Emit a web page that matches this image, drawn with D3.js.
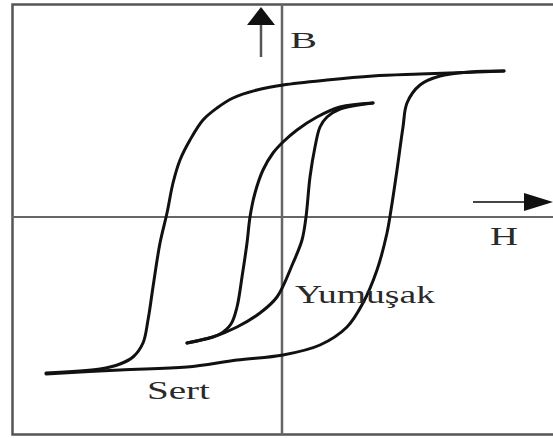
<!DOCTYPE html>
<html>
<head>
<meta charset="utf-8">
<script src="https://cdn.jsdelivr.net/npm/d3@7"></script>
<style>
  html, body { margin: 0; padding: 0; background: #fff; }
  svg { display: block; }
</style>
</head>
<body>
<div id="chart"></div>
<script>
// hysteresis loops, B against H (arbitrary units)

// hard material (Sert): descending branch, right to left
const hardDownH = [22.2, 13.8, 9.1, 4.5, 0.1, -2.5, -4.9, -6.5, -7.9, -9.2, -10.2, -10.9, -11.5, -12.2, -12.9, -13.4, -13.9, -14.9, -16.2, -18.2, -23.6];
const hardDownB = [14.6, 14.3, 14.1, 13.7, 13.2, 12.7, 11.9, 10.9, 9.7, 7.7, 5.7, 3.4, 0.4, -2.6, -7.0, -10.3, -12.6, -14.0, -14.7, -15.2, -15.6];
// hard material: ascending branch, left to right
const hardUpH = [-23.6, -16.2, -9.5, -4.5, 0.1, 3.8, 6.5, 8.1, 9.5, 10.5, 10.9, 11.5, 12.1, 12.5, 13.8, 15.8, 18.8, 22.2];
const hardUpB = [-15.7, -15.3, -15.0, -14.3, -13.8, -12.8, -11.0, -8.6, -5.3, -1.6, 0.7, 4.7, 9.0, 11.4, 13.2, 14.1, 14.5, 14.6];

// soft material (Yumuşak): descending branch
const softDownH = [9.1, 5.8, 3.5, 1.5, 0.1, -0.9, -1.9, -2.7, -3.2, -3.5, -4.0, -4.5, -5.1, -6.2, -7.7, -9.5];
const softDownB = [11.4, 11.0, 10.0, 8.7, 7.5, 6.4, 4.7, 2.4, 0, -2.6, -6.0, -9.0, -10.7, -11.7, -12.2, -12.6];
// soft material: ascending branch
const softUpH = [-9.5, -6.9, -4.5, -2.2, -0.5, 1.1, 2.0, 2.4, 2.8, 3.3, 3.8, 4.5, 5.8, 9.1];
const softUpB = [-12.6, -12.0, -11.0, -9.6, -8.0, -4.6, -2.3, 0, 4.0, 7.0, 9.0, 10.0, 10.8, 11.4];

const axisNames = ["B", "H"];
const loopNames = ["Yumuşak", "Sert"];

const width = 553, height = 438;

const x = d3.scaleLinear().domain([-27, 27]).range([12, 552]);
const y = d3.scaleLinear().domain([-21.5, 21.5]).range([432, 2]);

const svg = d3.select("#chart")
  .append("svg")
  .attr("width", width)
  .attr("height", height);

// frame
svg.append("path")
  .attr("d", `M${width},4.5 H12.5 V434.5 H${width}`)
  .attr("fill", "none")
  .attr("stroke", "#555")
  .attr("stroke-width", 2.5);

// axes through the origin
svg.append("line")
  .attr("x1", x(0)).attr("x2", x(0))
  .attr("y1", 4).attr("y2", 435)
  .attr("stroke", "#666").attr("stroke-width", 2.5);
svg.append("line")
  .attr("x1", 12).attr("x2", width)
  .attr("y1", y(0)).attr("y2", y(0))
  .attr("stroke", "#666").attr("stroke-width", 2);

// arrows
svg.append("line")
  .attr("x1", 261).attr("x2", 261).attr("y1", 57).attr("y2", 22)
  .attr("stroke", "#555").attr("stroke-width", 2.5);
svg.append("path")
  .attr("d", "M247,25 L261,7 L275,25 Z")
  .attr("fill", "#111");
svg.append("line")
  .attr("x1", 473).attr("x2", 526).attr("y1", 202).attr("y2", 202)
  .attr("stroke", "#444").attr("stroke-width", 2);
svg.append("path")
  .attr("d", "M524,193 L553,202 L524,211 Z")
  .attr("fill", "#111");

// loops
const zip = (hs, bs) => hs.map((h, i) => [h, bs[i]]);
const line = d3.line()
  .x(d => x(d[0]))
  .y(d => y(d[1]))
  .curve(d3.curveCatmullRom.alpha(0.5));

const curves = [
  zip(hardDownH, hardDownB),
  zip(hardUpH, hardUpB),
  zip(softDownH, softDownB),
  zip(softUpH, softUpB)
];

svg.append("g")
  .attr("fill", "none")
  .attr("stroke", "#111")
  .attr("stroke-width", 3)
  .attr("stroke-linecap", "round")
  .selectAll("path")
  .data(curves)
  .join("path")
  .attr("d", line);

// labels
const labels = [
  { text: axisNames[0], x: 290, y: 48, size: 24, len: 27 },
  { text: axisNames[1], x: 490, y: 245, size: 26, len: 28 },
  { text: loopNames[0], x: 295, y: 303, size: 26, len: 140 },
  { text: loopNames[1], x: 147, y: 399, size: 25, len: 63 }
];

svg.append("g")
  .attr("font-family", "'Liberation Serif', 'DejaVu Serif', serif")
  .attr("fill", "#2a2a2a")
  .selectAll("text")
  .data(labels)
  .join("text")
  .attr("x", d => d.x)
  .attr("y", d => d.y)
  .attr("font-size", d => d.size)
  .attr("textLength", d => d.len)
  .attr("lengthAdjust", "spacingAndGlyphs")
  .text(d => d.text);
</script>
</body>
</html>
